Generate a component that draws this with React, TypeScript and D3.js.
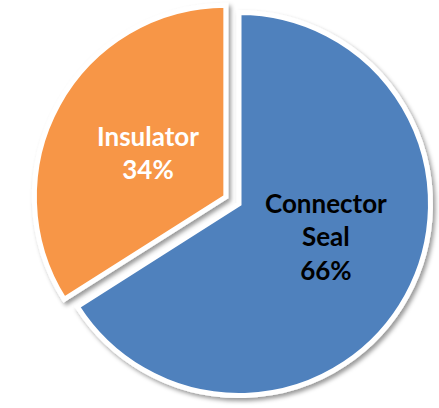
import * as d3 from 'd3';
import { useEffect, useRef } from 'react';

const categories = ['Connector Seal', 'Insulator'];
const values = [66, 34];
const percentLabels = ['66%', '34%'];
const labelLines = [['Connector', 'Seal'], ['Insulator']];
const colors = ['#4F81BD', '#F79646'];
const textColors = ['#000000', '#FFFFFF'];
const exploded = [0, 15];

type Slice = { name: string; value: number; i: number };

export default function App() {
    const ref = useRef<SVGSVGElement>(null);

    const width = 439,
        height = 408;
    const cx = 239,
        cy = 204,
        radius = 191.5;
    // label nudges, like a dragged data label in the original
    const nudge = [
        [8, -10],
        [1, 0],
    ];

    useEffect(() => {
        document.body.style.margin = '0';
        const svg = d3.select(ref.current);
        svg.selectAll('*').remove();

        const filter = svg
            .append('defs')
            .append('filter')
            .attr('id', 'shadow')
            .attr('x', '-20%')
            .attr('y', '-20%')
            .attr('width', '140%')
            .attr('height', '140%');
        filter
            .append('feDropShadow')
            .attr('dx', 2.5)
            .attr('dy', 3)
            .attr('stdDeviation', 2)
            .attr('flood-color', '#000')
            .attr('flood-opacity', 0.4);

        const data: Slice[] = categories.map((c, i) => ({ name: c, value: values[i], i }));
        const arcs = d3
            .pie<Slice>()
            .sort(null)
            .value((d) => d.value)(data);

        const arc = d3.arc<d3.PieArcDatum<Slice>>().innerRadius(0).outerRadius(radius);
        const labelArc = d3.arc<d3.PieArcDatum<Slice>>().innerRadius(90).outerRadius(90);

        const g = svg.append('g').attr('transform', `translate(${cx},${cy})`);

        const slices = g
            .selectAll('g.slice')
            .data(arcs)
            .join('g')
            .attr('class', 'slice')
            .attr('transform', (d) => {
                const mid = (d.startAngle + d.endAngle) / 2;
                const off = exploded[d.data.i];
                return `translate(${Math.sin(mid) * off},${-Math.cos(mid) * off})`;
            });

        slices
            .append('path')
            .attr('d', arc)
            .attr('fill', (d) => colors[d.data.i])
            .attr('stroke', '#fff')
            .attr('stroke-width', 5)
            .attr('stroke-linejoin', 'miter')
            .attr('filter', 'url(#shadow)');

        const lineH = 33.5;
        slices.each(function (d) {
            const [lx, ly] = labelArc.centroid(d);
            const [nx, ny] = nudge[d.data.i];
            const lines = [...labelLines[d.data.i], percentLabels[d.data.i]];
            const t = d3
                .select(this)
                .append('text')
                .attr('text-anchor', 'middle')
                .attr('font-family', 'Lato, "Open Sans", sans-serif')
                .attr('font-weight', 'bold')
                .attr('font-size', 26)
                .attr('fill', textColors[d.data.i]);
            const y0 = ly + ny - ((lines.length - 1) * lineH) / 2 + 9;
            lines.forEach((l, k) => {
                t.append('tspan')
                    .attr('x', lx + nx)
                    .attr('y', y0 + k * lineH)
                    .text(l);
            });
        });
    }, []);

    return <svg ref={ref} width={width} height={height} style={{ display: 'block' }} />;
}
